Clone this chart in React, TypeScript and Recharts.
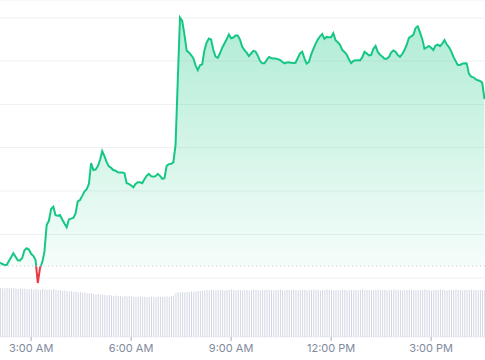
import { ComposedChart, Area, Bar, XAxis, YAxis, CartesianGrid, ReferenceLine } from 'recharts'

// minutes since midnight of the first sample, one sample every 4 minutes
const startMinute = 124
const stepMinutes = 4

const prices = [
  77.3, 76, 75, 75, 79, 82.8, 86.7, 83.2, 79.8, 79.5,
  82, 89.7, 91.7, 90.5, 86.2, 84.2, 80, 57, 72, 77.6,
  88.3, 115, 119.2, 131, 133.2, 124.8, 124.2, 125, 120.5, 116.4,
  112.7, 120.6, 121.4, 122.1, 126.5, 138.6, 140, 144.1, 148.5, 150.7,
  156, 177, 170, 170.5, 173.7, 180, 189, 183.9, 177.8, 173.6,
  172.1, 170, 169.3, 167.7, 167.5, 167.6, 166.7, 156.7, 156.1, 154.5,
  152.7, 156, 157.7, 157.7, 156.8, 160.7, 164.2, 166.1, 163.9, 163.3,
  163.9, 166.2, 164.2, 161.1, 161.8, 174.2, 175.9, 176.2, 177.6, 195,
  260, 322.3, 319, 305.4, 289.4, 287.6, 285, 281.7, 274.7, 269.9,
  274.8, 275.7, 289.8, 297.6, 301.5, 300.5, 290, 283.4, 282.2, 286.7,
  292.3, 296.4, 300.7, 305.6, 301.7, 302.5, 304.4, 304.5, 300.4, 293.3,
  289.9, 287.3, 283.9, 286.5, 289.1, 288.4, 284.4, 279.2, 276.7, 276.7,
  280, 283, 282, 281.6, 281.4, 280.9, 280, 278.3, 276.7, 277.5,
  277.8, 277.2, 277.1, 277.3, 282, 286.5, 288.3, 281.7, 276.3, 278,
  285.3, 290.8, 296.1, 300.4, 303.7, 306, 301.2, 303.1, 302.8, 302.7,
  306.7, 299.7, 297.7, 295.1, 290.2, 288.1, 285.5, 280.7, 276.8, 279,
  279.7, 279.8, 279.5, 282.6, 288.2, 286.7, 284.5, 284.9, 291.1, 294.2,
  288.1, 285.3, 283.5, 281.2, 281.2, 282.9, 287.5, 289.6, 288.2, 284.9,
  283.2, 286, 290, 295, 302.1, 303.6, 305.2, 312, 313.7, 307.6,
  301.1, 291.4, 292.7, 294.1, 292.3, 290, 294.4, 295.3, 293.8, 296.3,
  299.9, 295.7, 293, 288.9, 283.3, 279.1, 275, 275, 276.2, 276.8,
  276.6, 266.4, 263.4, 262.7, 260.9, 259.7, 259, 257.4, 241,
]

const volumes = [
  49, 49, 48.5, 49, 49, 48.5, 49, 48.5, 48, 48.5,
  48, 48.5, 48, 47.5, 48, 47.5, 48, 47.5, 47, 48,
  47.5, 47, 47.5, 47, 48, 47, 46.5, 47, 46, 46.5,
  46, 45.5, 46, 45, 45.5, 44.5, 45, 44, 44.5, 44,
  43.5, 44, 43, 42.5, 43, 42, 42.5, 42, 41.5, 42,
  41.5, 41, 41.5, 41, 41, 40.5, 41, 40.5, 41, 40.5,
  40.5, 40, 40.5, 40.5, 40, 40.5, 40, 40, 40.5, 40,
  40, 40.5, 40, 40, 40.5, 40.5, 40, 41, 41.5, 44,
  44.5, 44.5, 45, 44.5, 45, 45, 45.5, 45, 45.5, 46,
  46, 46.5, 46.5, 47, 46.5, 47, 47, 46.5, 47, 47,
  47, 46.5, 47, 47, 47.5, 47, 46.5, 47, 47, 46.5,
  47, 47, 46.5, 47, 47.5, 47, 47, 46.5, 47, 47,
  47.5, 47, 47, 46.5, 47, 47, 47.5, 47, 46.5, 47,
  47, 47, 47.5, 47, 46.5, 47, 47, 47, 46.5, 47,
  47, 47.5, 47, 47, 46.5, 47, 47, 47.5, 47, 47,
  46.5, 47, 47, 47, 47.5, 47, 46.5, 47, 47, 47,
  47, 46.5, 47, 47.5, 47, 47, 47, 46.5, 47, 47,
  47.5, 47, 47, 47, 46.5, 47, 47, 47.5, 47, 47,
  47, 46.5, 47, 47, 47.5, 47, 47, 46.5, 47, 47,
  47, 47.5, 47, 47, 46.5, 47, 47, 47, 47.5, 47,
  47, 46.5, 47, 47, 47, 47.5, 47, 47, 46.5, 47,
  47, 47, 47.5, 47, 47, 46.5, 47, 47, 47,
]

const openPrice = 74
const tickMinutes = [180, 360, 540, 720, 900]
const tickLabels = ['3:00 AM', '6:00 AM', '9:00 AM', '12:00 PM', '3:00 PM']
const priceGrid = [62, 105.5, 149, 192.5, 235.5, 279, 322]

const data = prices.map((price, i) => ({
  time: startMinute + i * stepMinutes,
  price,
  volume: volumes[i],
}))

const maxPrice = Math.max(...prices)
const minPrice = Math.min(...prices)
const splitOffset = (maxPrice - openPrice) / (maxPrice - minPrice)

const GREEN = '#16c784'
const RED = '#ea3943'

export default function App() {
  return (
    <div>
      <style>{'body{margin:0}'}</style>
      <ComposedChart width={485} height={360} data={data} margin={{ top: 0, right: 0, bottom: 0, left: 0 }}>
        <defs>
          <linearGradient id="strokeSplit" x1="0" y1="0" x2="0" y2="1">
            <stop offset={splitOffset} stopColor={GREEN} />
            <stop offset={splitOffset} stopColor={RED} />
          </linearGradient>
          <linearGradient id="fillGreen" x1="0" y1="0" x2="0" y2="1">
            <stop offset="0%" stopColor={GREEN} stopOpacity={0.34} />
            <stop offset="100%" stopColor={GREEN} stopOpacity={0.02} />
          </linearGradient>
        </defs>
        <CartesianGrid yAxisId="price" vertical={false} stroke="#eff1f4" />
        <XAxis
          dataKey="time"
          type="number"
          domain={[124, 997]}
          ticks={tickMinutes}
          tickFormatter={(v: number) => tickLabels[tickMinutes.indexOf(v)]}
          axisLine={false}
          tickSize={4}
          tickMargin={3}
          height={23}
          stroke="#a6acbb"
          tick={{ fontSize: 11, fill: '#808a9d', fontFamily: 'Inter' }}
        />
        <YAxis yAxisId="price" domain={[3, 340]} ticks={priceGrid} hide />
        <YAxis yAxisId="vol" domain={[0, 337]} hide />
        <Bar yAxisId="vol" dataKey="volume" fill="#d3d7e4" barSize={1} isAnimationActive={false} />
        <ReferenceLine yAxisId="price" y={openPrice} stroke="#bfc4ce" strokeDasharray="1 3" />
        <Area
          yAxisId="price"
          type="linear"
          dataKey="price"
          baseValue={openPrice}
          stroke="url(#strokeSplit)"
          strokeWidth={2}
          fill="url(#fillGreen)"
          fillOpacity={1}
          dot={false}
          activeDot={false}
          isAnimationActive={false}
        />
      </ComposedChart>
    </div>
  )
}
